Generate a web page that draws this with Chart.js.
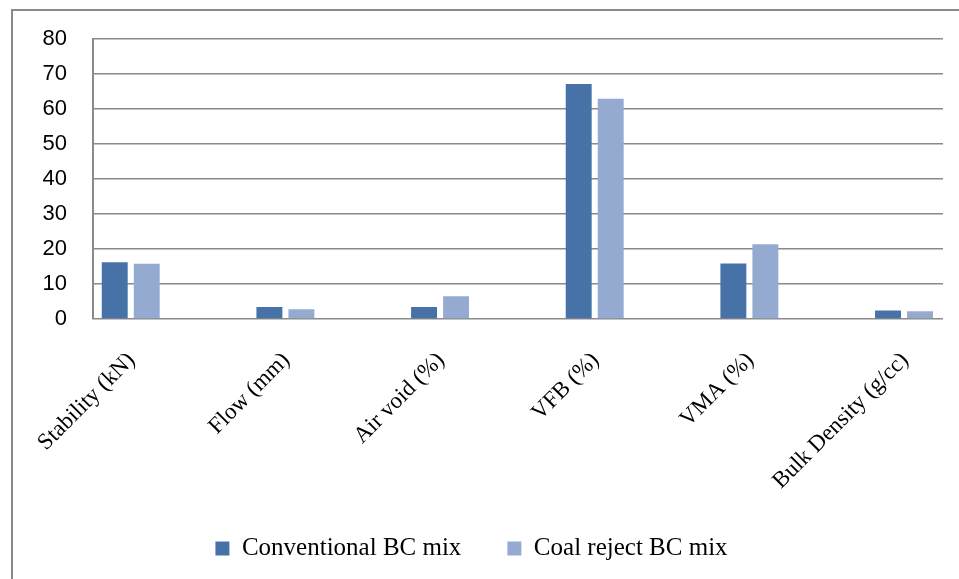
<!DOCTYPE html>
<html>
<head>
<meta charset="utf-8">
<script src="https://cdn.jsdelivr.net/npm/chart.js@4.4.0/dist/chart.umd.min.js"></script>
<style>
  html, body { margin: 0; padding: 0; background: #ffffff; }
  #wrap { position: relative; width: 959px; height: 579px; overflow: hidden; }
  #frame {
    position: absolute; left: 11px; top: 9px; width: 1000px; height: 1000px;
    border-left: 2px solid #8a8a8a; border-top: 2px solid #8a8a8a;
  }
  #myChart { position: absolute; left: 0; top: 0; }
</style>
</head>
<body>
<div id="wrap">
  <div id="frame"></div>
  <canvas id="myChart" width="959" height="579"></canvas>
</div>
<script>
// kategorier och värden
const categories = ["Stability (kN)", "Flow (mm)", "Air void (%)", "VFB (%)", "VMA (%)", "Bulk Density (g/cc)"];
const conventional = [16.2, 3.4, 3.4, 67.2, 15.9, 2.4];
const coalReject = [15.8, 2.8, 6.5, 63.0, 21.4, 2.2];
const yTicks = [0, 10, 20, 30, 40, 50, 60, 70, 80];

const ctx = document.querySelector("#myChart");

function toPoints(values) {
  return values.map((v, i) => ({ x: i, y: v }));
}

const chart = new Chart(ctx, {
  type: "bar",
  data: {
    datasets: [
      {
        label: "Conventional BC mix",
        data: toPoints(conventional),
        backgroundColor: "#4672a8",
        borderWidth: 0,
        categoryPercentage: 0.414,
        barPercentage: 0.81,
      },
      {
        label: "Coal reject BC mix",
        data: toPoints(coalReject),
        backgroundColor: "#95aad1",
        borderWidth: 0,
        categoryPercentage: 0.414,
        barPercentage: 0.81,
      },
    ],
  },
  options: {
    responsive: false,
    animation: false,
    layout: { padding: { top: 38, right: 16, bottom: 8, left: 0 } },
    plugins: {
      tooltip: { enabled: false },
      legend: {
        position: "bottom",
        labels: {
          boxWidth: 14,
          boxHeight: 14,
          padding: 46,
          color: "#000000",
          font: { family: "'Liberation Serif', 'Times New Roman', serif", size: 25 },
        },
      },
    },
    scales: {
      x: {
        type: "linear",
        offset: false,
        min: -0.244,
        max: 5.252,
        grid: { display: false, offset: false },
        border: { display: false },
        afterBuildTicks: (scale) => {
          scale.ticks = categories.map((c, i) => ({ value: i }));
        },
        afterFit: (scale) => {
          scale.height = 171;
        },
        ticks: {
          autoSkip: false,
          minRotation: 45,
          maxRotation: 45,
          padding: 20,
          labelOffset: 1,
          color: "#000000",
          font: { family: "'Liberation Serif', 'Times New Roman', serif", size: 23 },
          callback: (value) => categories[value],
        },
      },
      y: {
        min: 0,
        max: 80,
        afterBuildTicks: (scale) => {
          scale.ticks = yTicks.map((v) => ({ value: v }));
        },
        afterFit: (scale) => {
          scale.width = 93;
        },
        grid: { color: "#8a8a8a", lineWidth: 1.5, drawTicks: false },
        border: { display: true, color: "#8a8a8a", width: 2 },
        ticks: {
          padding: 26,
          color: "#000000",
          font: { family: "'Liberation Sans', Arial, sans-serif", size: 22 },
        },
      },
    },
  },
});
</script>
</body>
</html>
